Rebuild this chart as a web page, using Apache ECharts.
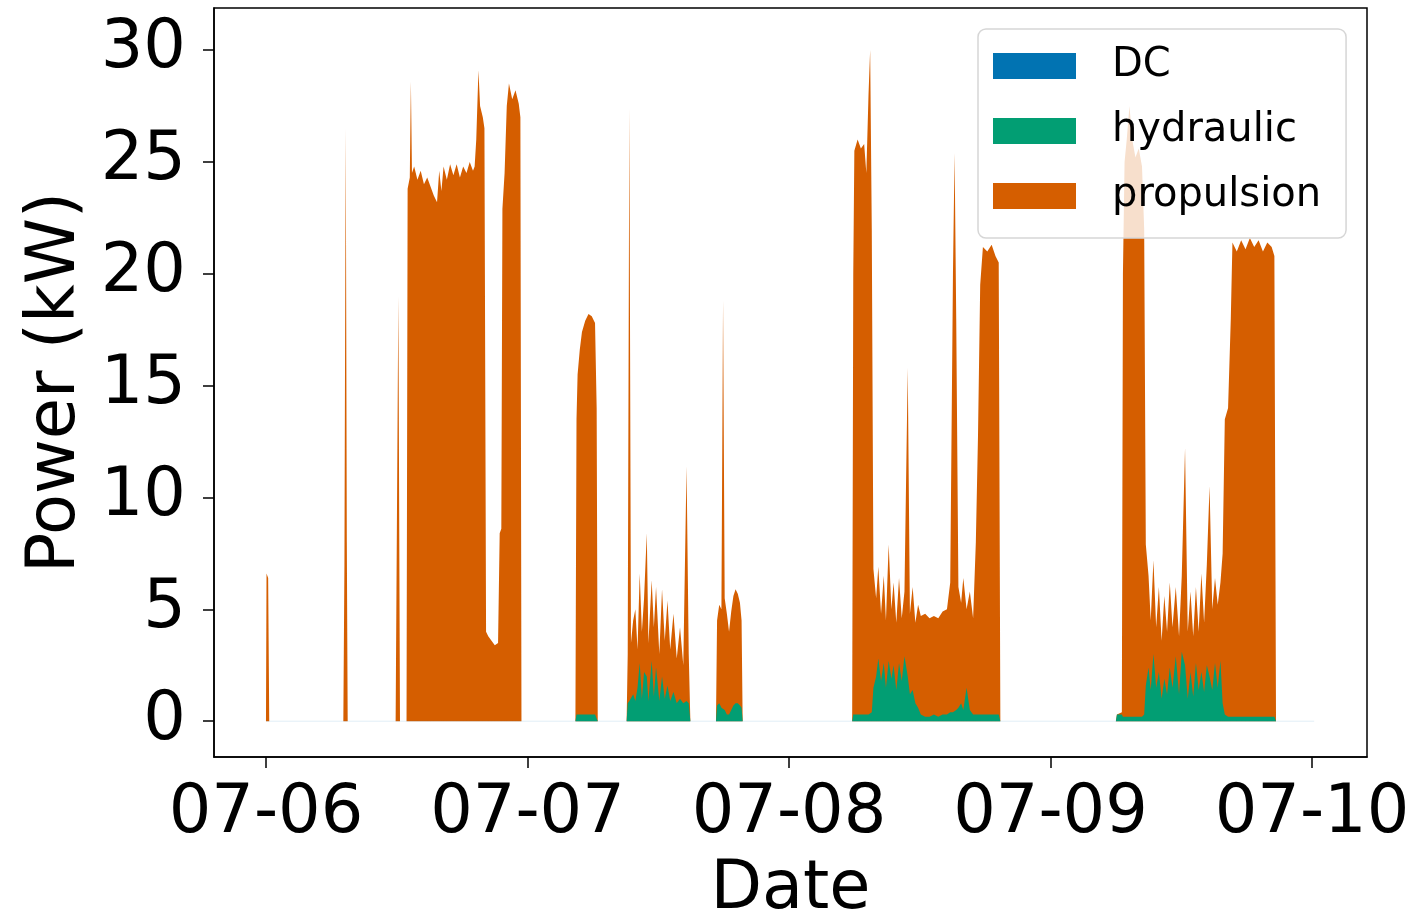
<!DOCTYPE html>
<html>
<head>
<meta charset="utf-8">
<title>Power (kW) by consumer</title>
<script src="https://cdn.jsdelivr.net/npm/echarts@6/dist/echarts.min.js"></script>
<style>
  html, body { margin: 0; padding: 0; background: #fff; }
  #chart { width: 1419px; height: 920px; }
</style>
</head>
<body>
<div id="chart"></div>
<script>
// hours since 07-06 00:00, one row per operating period
const hours = [
  0.0, 0.05, 0.2, 0.3,
  7.1, 7.2, 7.32, 7.42, 7.5,
  11.9, 12.15, 12.3, 12.9, 13.0, 13.2, 13.3, 13.4, 13.6, 13.9, 14.2, 14.5, 14.8, 15.1, 15.4, 15.7, 15.9, 16.1, 16.3, 16.6, 16.9,
  17.2, 17.5, 17.8, 18.1, 18.4, 18.7, 19.0, 19.15, 19.3, 19.5, 19.65, 19.9, 20.05, 20.2, 20.4, 20.7, 21.0, 21.3, 21.45, 21.6,
  21.7, 21.9, 22.1, 22.3, 22.6, 22.9, 23.2, 23.35, 23.45,
  28.4, 28.5, 28.6, 28.8, 29.0, 29.3, 29.6, 29.9, 30.2, 30.35, 30.45,
  33.1, 33.2, 33.35, 33.5, 33.7, 33.9, 34.1, 34.3, 34.5, 34.7, 34.95, 35.1, 35.4, 35.6, 35.8, 36.1, 36.35, 36.6, 36.85, 37.1,
  37.4, 37.7, 38.0, 38.3, 38.6, 38.8, 38.95,
  41.3, 41.4, 41.6, 41.8, 41.95, 42.1, 42.3, 42.5, 42.7, 42.9, 43.1, 43.3, 43.5, 43.65, 43.75,
  53.8, 53.9, 54.0, 54.3, 54.6, 54.9, 55.1, 55.3, 55.45, 55.6, 55.75, 56.0, 56.2, 56.45, 56.7, 56.9, 57.15, 57.4, 57.6, 57.85,
  58.1, 58.35, 58.6, 58.9, 59.1, 59.35, 59.6, 59.85, 60.1, 60.5, 60.9, 61.3, 61.7, 62.1, 62.5, 62.8, 63.05, 63.2, 63.35, 63.55,
  63.8, 64.0, 64.3, 64.6, 64.9, 65.15, 65.35, 65.55, 65.8, 66.2, 66.6, 66.95, 67.25, 67.4,
  78.0, 78.1, 78.55, 78.65, 78.8, 79.0, 79.25, 79.5, 79.8, 80.1, 80.4, 80.6, 80.75, 81.0, 81.2, 81.45, 81.7, 81.95, 82.2, 82.45,
  82.7, 82.95, 83.2, 83.5, 83.8, 84.05, 84.35, 84.6, 84.85, 85.1, 85.35, 85.6, 85.85, 86.1, 86.35, 86.6, 86.85, 87.1, 87.35, 87.6,
  87.8, 88.0, 88.3, 88.55, 88.7, 89.1, 89.5, 89.9, 90.3, 90.7, 91.1, 91.5, 91.9, 92.3, 92.55, 92.7,
  96.2
];

const dcKW = [
  0, 0, 0, 0,
  0, 0, 0, 0, 0,
  0, 0, 0, 0, 0, 0, 0, 0, 0, 0, 0, 0, 0, 0, 0, 0, 0, 0, 0, 0, 0,
  0, 0, 0, 0, 0, 0, 0, 0, 0, 0, 0, 0, 0, 0, 0, 0, 0, 0, 0, 0,
  0, 0, 0, 0, 0, 0, 0, 0, 0,
  0, 0, 0, 0, 0, 0, 0, 0, 0, 0, 0,
  0, 0, 0, 0, 0, 0, 0, 0, 0, 0, 0, 0, 0, 0, 0, 0, 0, 0, 0, 0,
  0, 0, 0, 0, 0, 0, 0,
  0, 0, 0, 0, 0, 0, 0, 0, 0, 0, 0, 0, 0, 0, 0,
  0, 0, 0, 0, 0, 0, 0, 0, 0, 0, 0, 0, 0, 0, 0, 0, 0, 0, 0, 0,
  0, 0, 0, 0, 0, 0, 0, 0, 0, 0, 0, 0, 0, 0, 0, 0, 0, 0, 0, 0,
  0, 0, 0, 0, 0, 0, 0, 0, 0, 0, 0, 0, 0, 0,
  0, 0, 0, 0, 0, 0, 0, 0, 0, 0, 0, 0, 0, 0, 0, 0, 0, 0, 0, 0,
  0, 0, 0, 0, 0, 0, 0, 0, 0, 0, 0, 0, 0, 0, 0, 0, 0, 0, 0, 0,
  0, 0, 0, 0, 0, 0, 0, 0, 0, 0, 0, 0, 0, 0, 0, 0,
  0
];

const hydraulicKW = [
  0, 0, 0, 0,
  0, 0, 0, 0, 0,
  0, 0, 0, 0, 0, 0, 0, 0, 0, 0, 0, 0, 0, 0, 0, 0, 0, 0, 0, 0, 0,
  0, 0, 0, 0, 0, 0, 0, 0, 0, 0, 0, 0, 0, 0, 0, 0, 0, 0, 0, 0,
  0, 0, 0, 0, 0, 0, 0, 0, 0,
  0, 0.3, 0.3, 0.3, 0.3, 0.3, 0.3, 0.3, 0.3, 0.3, 0,
  0, 0.8, 0.9, 0.9, 1.2, 0.9, 1.5, 2.6, 1.0, 2.2, 2.0, 0.9, 2.7, 1.1, 2.4, 0.9, 2.0, 1.0, 1.6, 0.9,
  1.3, 0.8, 1.0, 0.8, 0.9, 0.8, 0,
  0, 0.7, 0.8, 0.6, 0.6, 0.5, 0.3, 0.3, 0.5, 0.7, 0.8, 0.8, 0.7, 0.6, 0,
  0, 0.3, 0.3, 0.3, 0.3, 0.3, 0.3, 0.3, 0.3, 0.4, 1.5, 2.0, 2.8, 1.8, 2.6, 1.5, 2.7, 1.9, 2.5, 1.4,
  2.6, 1.8, 2.9, 2.0, 1.2, 1.4, 0.8, 0.6, 0.3, 0.2, 0.2, 0.3, 0.2, 0.3, 0.3, 0.4, 0.4, 0.4, 0.5, 0.6,
  0.8, 0.5, 1.5, 0.5, 0.3, 0.3, 0.3, 0.3, 0.3, 0.3, 0.3, 0.3, 0.3, 0,
  0, 0.3, 0.3, 0.2, 0.2, 0.2, 0.2, 0.2, 0.2, 0.2, 0.2, 0.3, 1.6, 2.4, 1.4, 3.0, 1.5, 2.2, 1.0, 1.9,
  1.2, 2.4, 1.5, 2.9, 1.2, 3.1, 2.5, 1.0, 2.2, 1.1, 2.6, 1.4, 2.2, 1.3, 2.5, 2.0, 1.4, 2.6, 1.5, 2.7,
  0.8, 0.3, 0.2, 0.2, 0.2, 0.2, 0.2, 0.2, 0.2, 0.2, 0.2, 0.2, 0.2, 0.2, 0.2, 0,
  0
];

const propulsionKW = [
  0, 6.6, 6.4, 0,
  0, 7, 26.5, 8, 0,
  0, 19, 0, 0, 23.8, 24.3, 28.6, 24.5, 24.8, 24.2, 24.6, 24.0, 24.3, 23.9, 23.5, 23.2, 24.6, 23.7, 24.8, 24.2, 24.9,
  24.4, 24.9, 24.3, 24.8, 24.5, 25.0, 24.6, 24.8, 26.0, 29.1, 27.5, 27.0, 26.5, 4.0, 3.8, 3.6, 3.4, 3.5, 8.4, 8.6,
  22.9, 24.5, 27.5, 28.5, 27.8, 28.2, 27.6, 27.0, 0,
  0, 13.2, 15.2, 16.3, 17.1, 17.6, 17.9, 17.8, 17.5, 13.7, 0,
  0, 2.2, 26.5, 2.6, 3.3, 4.1, 1.7, 4.0, 3.0, 3.3, 6.4, 2.6, 3.6, 3.1, 3.6, 2.1, 3.9, 2.6, 3.8, 2.3,
  3.5, 2.0, 3.2, 1.7, 10.5, 2.2, 0,
  0, 3.8, 4.4, 4.4, 18.2, 5.0, 4.5, 3.7, 4.4, 4.9, 5.1, 4.9, 4.6, 3.9, 0,
  0, 19.7, 25.2, 25.7, 25.3, 25.5, 24.2, 27.7, 29.7, 21.6, 5.3, 3.5, 4.1, 3.0, 3.9, 3.0, 5.2, 3.1, 3.7, 3.0,
  3.8, 2.8, 2.9, 13.8, 3.6, 4.6, 3.6, 4.6, 4.4, 4.6, 4.4, 4.4, 4.4, 4.6, 4.7, 5.8, 19.6, 25.0, 17.5, 5.4,
  4.5, 5.9, 3.5, 5.3, 4.3, 7.7, 12.5, 19.2, 20.9, 20.7, 21.0, 20.5, 20.2, 0,
  0, 0, 0.1, 19.8, 24.8, 25.8, 27.3, 25.8, 25.0, 25.4, 24.6, 21.7, 6.3, 4.1, 3.1, 4.2, 2.7, 3.8, 2.6, 3.7,
  2.8, 3.8, 2.7, 3.1, 2.6, 3.4, 9.7, 3.0, 3.6, 2.7, 3.4, 2.6, 4.4, 3.1, 4.5, 8.5, 3.6, 3.8, 3.7, 3.5,
  6.7, 13.2, 13.8, 17.8, 21.2, 20.8, 21.3, 20.9, 21.4, 21.0, 21.3, 20.8, 21.2, 21.0, 20.6, 0,
  0
];

const seriesNames = ['DC', 'hydraulic', 'propulsion'];
const seriesColors = ['#0173b2', '#029e73', '#d55e00'];
const dayTickHours = [0, 24, 48, 72, 96];
const dayTickLabels = ['07-06', '07-07', '07-08', '07-09', '07-10'];
const powerTicks = [0, 5, 10, 15, 20, 25, 30];

if (dcKW.length !== hours.length || hydraulicKW.length !== hours.length || propulsionKW.length !== hours.length) {
  console.warn('lengths differ', hours.length, dcKW.length, hydraulicKW.length, propulsionKW.length);
}

const FONT = 'DejaVu Sans';
const chart = echarts.init(document.getElementById('chart'), null, { renderer: 'canvas' });

// stackplot: each layer sits on top of the ones before it.
// echarts 'stack' on a value x axis stacks the x dimension, so the
// running totals are built here and the layers are drawn top-down.
const layers = [dcKW, hydraulicKW, propulsionKW];
const tops = [];
let running = hours.map(() => 0);
layers.forEach(vals => {
  running = running.map((s, i) => s + vals[i]);
  tops.push(running);
});

const option = {
  backgroundColor: '#fff',
  animation: false,
  grid: {
    left: 214, right: 52, top: 8, bottom: 163,
    show: true, borderColor: '#000', borderWidth: 1.5,
    outerBoundsMode: 'none'
  },
  legend: {
    orient: 'vertical',
    left: 978, top: 29,
    padding: [17, 25, 22, 15],
    itemWidth: 83, itemHeight: 26, itemGap: 25,
    icon: 'rect',
    backgroundColor: 'rgba(255,255,255,0.8)',
    borderColor: '#d6d6d6', borderWidth: 1.5, borderRadius: 8,
    textStyle: { fontFamily: FONT, fontSize: 40, color: '#000', padding: [0, 0, 0, 31] },
    data: seriesNames
  },
  xAxis: {
    type: 'value',
    min: -4.77, max: 101.05,
    name: 'Date', nameLocation: 'middle', nameGap: 100,
    nameTextStyle: { fontFamily: FONT, fontSize: 67, color: '#000' },
    axisLine: { show: true, onZero: false, lineStyle: { color: '#000', width: 1.5 } },
    axisTick: { show: true, length: 11, customValues: dayTickHours, lineStyle: { color: '#000', width: 1.5 } },
    axisLabel: {
      customValues: dayTickHours, margin: 24,
      fontFamily: FONT, fontSize: 67, color: '#000',
      formatter: v => dayTickLabels[dayTickHours.indexOf(v)]
    },
    splitLine: { show: false }
  },
  yAxis: {
    type: 'value',
    min: -1.6, max: 31.88,
    name: 'Power (kW)', nameLocation: 'middle', nameGap: 124, nameRotate: 90,
    nameTextStyle: { fontFamily: FONT, fontSize: 67, color: '#000' },
    axisLine: { show: true, onZero: false, lineStyle: { color: '#000', width: 1.5 } },
    axisTick: { show: true, length: 11, customValues: powerTicks, lineStyle: { color: '#000', width: 1.5 } },
    axisLabel: {
      customValues: powerTicks, margin: 28,
      fontFamily: FONT, fontSize: 67, color: '#000'
    },
    splitLine: { show: false }
  },
  series: seriesNames.map((name, k) => ({
    name: name,
    type: 'line',
    showSymbol: false,
    symbol: 'none',
    color: seriesColors[k],
    itemStyle: { color: seriesColors[k] },
    lineStyle: k === 0 ? { width: 1, color: seriesColors[k], opacity: 0.12 } : { width: 0 },
    areaStyle: { color: seriesColors[k], opacity: 1, origin: 0 },
    data: hours.map((h, i) => [h, tops[k][i]]),
    z: 2 + (layers.length - k)
  }))
};

chart.setOption(option);
</script>
</body>
</html>
